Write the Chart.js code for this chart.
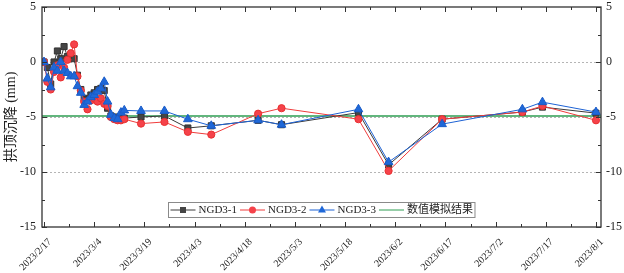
<!DOCTYPE html>
<html>
<head>
<meta charset="utf-8">
<title>拱顶沉降</title>
<script src="https://cdn.jsdelivr.net/npm/chart.js"></script>
<style>
    html, body { margin: 0; padding: 0; background: #fff; }
    .chart-container { width: 624px; height: 273px; }
</style>
</head>
<body>
<div class="chart-container">
    <canvas id="settleChart"></canvas>
</div>
<script>
    // days counted from 2023/2/17
    const days = [0, 1, 2, 3, 4, 5, 6, 7, 8, 9, 10, 11, 12, 13, 14, 15, 16, 17, 18, 19, 20, 21, 22, 23, 24,
                  29, 36, 43, 50, 64, 71, 94, 103, 119, 143, 149, 165];
    const ngd1 = [0, -0.5, -2.0, 0.0, 1.0, 0.3, 1.4, 0.5, 0.6, 0.3, -1.2, -2.5, -3.3, -3.4, -3.0, -2.8, -2.5, -2.4, -2.6, -4.2, -4.9, -5.0, -5.2, -5.1, -5.1,
                  -5.0, -4.9, -6.0, -5.8, -5.3, -5.7, -4.6, -9.35, -5.2, -4.55, -4.1, -4.65];
    const ngd2 = [0, -1.8, -2.5, -0.9, -0.3, -1.4, -0.5, 0.2, 0.8, 1.6, -1.3, -2.6, -3.6, -4.3, -3.5, -3.3, -3.6, -3.3, -3.8, -4.0, -5.0, -5.2, -5.3, -5.3, -5.2,
                  -5.6, -5.45, -6.35, -6.6, -4.7, -4.2, -5.2, -9.9, -5.2, -4.55, -4.0, -5.3];
    const ngd3 = [0, -1.5, -2.3, -0.5, -0.8, 0.0, -0.8, -1.0, -1.3, -1.3, -2.2, -2.8, -3.9, -3.6, -3.2, -3.0, -2.7, -2.4, -1.8, -3.6, -4.8, -5.1, -5.2, -4.6, -4.4,
                  -4.45, -4.45, -5.2, -5.8, -5.3, -5.7, -4.3, -9.1, -5.65, -4.3, -3.65, -4.55];
    const simValue = -4.9;

    const xMin = -0.6, xMax = 166.5;
    const xMajor = [0, 15, 30, 45, 60, 75, 90, 105, 120, 135, 150, 165];
    const yMajor = [-15, -10, -5, 0, 5];
    const yGrid = [-10, -5, 0];

    const serif = "'Liberation Serif', 'Noto Sans CJK SC', serif";

    function dayLabel(d) {
        const dt = new Date(2023, 1, 17 + d);
        return dt.getFullYear() + '/' + (dt.getMonth() + 1) + '/' + dt.getDate();
    }
    const toXY = vals => vals.map((v, i) => ({ x: days[i], y: v }));
    const noPad = s => { s.paddingTop = 0; s.paddingBottom = 0; s.paddingLeft = 0; s.paddingRight = 0; };

    // dotted grid, frame, inward ticks and boxed legend
    const decor = {
        id: 'decor',
        beforeDatasetsDraw(chart) {
            const { ctx, chartArea: a, scales: { x, y } } = chart;
            ctx.save();
            ctx.strokeStyle = '#b5b5b5';
            ctx.lineWidth = 1;
            ctx.setLineDash([2, 2]);
            yGrid.forEach(v => {
                const py = Math.round(y.getPixelForValue(v)) + 0.5;
                ctx.beginPath(); ctx.moveTo(a.left, py); ctx.lineTo(a.right, py); ctx.stroke();
            });
            ctx.restore();
        },
        afterDatasetsDraw(chart) {
            const { ctx, chartArea: a, scales: { x, y } } = chart;
            ctx.save();
            ctx.strokeStyle = '#333';
            ctx.lineWidth = 1.3;
            ctx.strokeRect(a.left, a.top, a.right - a.left, a.bottom - a.top);
            ctx.lineWidth = 1;
            for (let d = 0; d <= 165; d += 7.5) {
                const px = Math.round(x.getPixelForValue(d)) + 0.5;
                const len = d % 15 === 0 ? 5 : 3;
                ctx.beginPath();
                ctx.moveTo(px, a.bottom); ctx.lineTo(px, a.bottom - len);
                ctx.moveTo(px, a.top); ctx.lineTo(px, a.top + len);
                ctx.stroke();
            }
            for (let v = -15; v <= 5; v += 2.5) {
                const py = Math.round(y.getPixelForValue(v)) + 0.5;
                const len = v % 5 === 0 ? 5 : 3;
                ctx.beginPath();
                ctx.moveTo(a.left, py); ctx.lineTo(a.left + len, py);
                ctx.moveTo(a.right, py); ctx.lineTo(a.right - len, py);
                ctx.stroke();
            }

            // legend
            ctx.font = '11px ' + serif;
            const sym = 25, gap = 3, sep = 3, pad = 2;
            const items = chart.data.datasets.slice().sort((p, q) => p.legendIndex - q.legendIndex);
            let total = pad * 2;
            items.forEach((ds, i) => {
                total += sym + gap + ctx.measureText(ds.label).width + (i < items.length - 1 ? sep : 0);
            });
            const h = 15;
            const cx = (a.left + a.right) / 2;
            let lx = Math.round(cx - total / 2) + 0.5;
            const ly = Math.round(a.bottom - 10 - h) + 0.5;
            ctx.fillStyle = '#fff';
            ctx.fillRect(lx, ly, total, h);
            ctx.strokeStyle = '#8a8a8a';
            ctx.strokeRect(lx, ly, total, h);
            const my = ly + h / 2;
            let px = lx + pad;
            items.forEach((ds, i) => {
                ctx.strokeStyle = ds.borderColor;
                ctx.lineWidth = 1;
                ctx.beginPath(); ctx.moveTo(px, my); ctx.lineTo(px + sym, my); ctx.stroke();
                const mx = px + sym / 2;
                ctx.fillStyle = ds.pointBackgroundColor || ds.borderColor;
                if (ds.pointStyle === 'rect') {
                    ctx.fillRect(mx - 3, my - 3, 6, 6);
                } else if (ds.pointStyle === 'circle') {
                    ctx.beginPath(); ctx.arc(mx, my, 3.5, 0, Math.PI * 2); ctx.fill();
                } else if (ds.pointStyle === 'triangle') {
                    ctx.beginPath();
                    ctx.moveTo(mx, my - 4.5);
                    ctx.lineTo(mx + 4, my + 2.5);
                    ctx.lineTo(mx - 4, my + 2.5);
                    ctx.closePath(); ctx.fill();
                }
                px += sym + gap;
                ctx.fillStyle = '#222';
                ctx.textBaseline = 'middle';
                ctx.fillText(ds.label, px, my + 0.5);
                px += ctx.measureText(ds.label).width + sep;
            });
            ctx.restore();
        }
    };

    const ctx = document.getElementById('settleChart').getContext('2d');
    const chart = new Chart(ctx, {
        type: 'line',
        data: {
            datasets: [
                {
                    label: '数值模拟结果',
                    legendIndex: 3,
                    data: [{ x: xMin, y: simValue }, { x: xMax, y: simValue }],
                    borderColor: '#2e9e52',
                    borderWidth: 1.5,
                    pointRadius: 0,
                    order: 4
                },
                {
                    label: 'NGD3-1',
                    legendIndex: 0,
                    data: toXY(ngd1),
                    borderColor: '#3a3a3a',
                    pointBackgroundColor: '#454545',
                    pointBorderColor: '#333',
                    pointStyle: 'rect',
                    pointRadius: 4.3,
                    borderWidth: 1,
                    order: 3
                },
                {
                    label: 'NGD3-2',
                    legendIndex: 1,
                    data: toXY(ngd2),
                    borderColor: '#f03c3c',
                    pointBackgroundColor: '#f5424a',
                    pointBorderColor: '#e83030',
                    pointStyle: 'circle',
                    pointRadius: 3.6,
                    borderWidth: 1,
                    order: 2
                },
                {
                    label: 'NGD3-3',
                    legendIndex: 2,
                    data: toXY(ngd3),
                    borderColor: '#1d62d4',
                    pointBackgroundColor: '#1f68d8',
                    pointBorderColor: '#1a5cc8',
                    pointStyle: 'triangle',
                    pointRadius: 5,
                    borderWidth: 1,
                    order: 1
                }
            ]
        },
        options: {
            responsive: true,
            maintainAspectRatio: false,
            animation: false,
            layout: { padding: { top: 7, left: 0, right: 0, bottom: 0 } },
            plugins: { legend: { display: false }, tooltip: { enabled: false } },
            scales: {
                x: {
                    type: 'linear',
                    min: xMin,
                    max: xMax,
                    grid: { display: false, drawTicks: false },
                    border: { display: false },
                    afterBuildTicks: s => { s.ticks = xMajor.map(v => ({ value: v })); },
                    afterFit: s => { s.height = 46; noPad(s); },
                    ticks: {
                        autoSkip: false,
                        maxRotation: 45,
                        minRotation: 45,
                        padding: 9,
                        labelOffset: 6,
                        color: '#222',
                        font: { family: serif, size: 10 },
                        callback: v => dayLabel(v)
                    }
                },
                y: {
                    type: 'linear',
                    position: 'left',
                    min: -15,
                    max: 5,
                    grid: { display: false, drawTicks: false },
                    border: { display: false },
                    afterBuildTicks: s => { s.ticks = yMajor.map(v => ({ value: v })); },
                    afterFit: s => { s.width = 42; noPad(s); },
                    title: {
                        display: true,
                        text: '拱顶沉降 (mm)',
                        color: '#222',
                        font: { family: serif, size: 14 },
                        padding: { top: 3, bottom: 0 }
                    },
                    ticks: { padding: 6, color: '#222', font: { family: serif, size: 12 } }
                },
                y1: {
                    type: 'linear',
                    position: 'right',
                    min: -15,
                    max: 5,
                    grid: { display: false, drawTicks: false },
                    border: { display: false },
                    afterBuildTicks: s => { s.ticks = yMajor.map(v => ({ value: v })); },
                    afterFit: s => { s.width = 23; noPad(s); },
                    ticks: { padding: 5, color: '#222', font: { family: serif, size: 12 } }
                }
            }
        },
        plugins: [decor]
    });
</script>
</body>
</html>
